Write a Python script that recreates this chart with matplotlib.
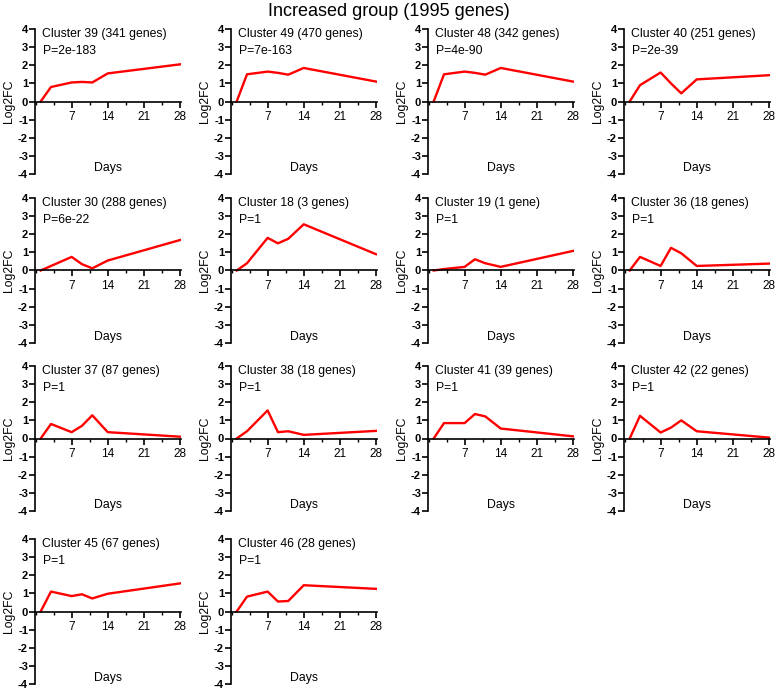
import matplotlib
matplotlib.use("Agg")
import matplotlib.pyplot as plt
from matplotlib.ticker import MultipleLocator

plt.rcParams["font.family"] = ["Liberation Sans", "DejaVu Sans"]
plt.rcParams["axes.unicode_minus"] = False

days = [1, 3, 7, 9, 11, 14, 28]

clusters = ["39", "49", "48", "40", "30", "18", "19", "36",
            "37", "38", "41", "42", "45", "46"]
genes = ["341 genes", "470 genes", "342 genes", "251 genes", "288 genes",
         "3 genes", "1 gene", "18 genes", "87 genes", "18 genes",
         "39 genes", "22 genes", "67 genes", "28 genes"]
pvals = ["2e-183", "7e-163", "4e-90", "2e-39", "6e-22", "1", "1", "1",
         "1", "1", "1", "1", "1", "1"]

c39 = [0, 0.80, 1.05, 1.08, 1.05, 1.55, 2.05]
c49 = [0, 1.50, 1.65, 1.58, 1.48, 1.85, 1.10]
c48 = [0, 1.50, 1.65, 1.58, 1.48, 1.85, 1.10]
c40 = [0, 0.90, 1.60, 1.00, 0.45, 1.22, 1.45]
c30 = [0, 0.25, 0.75, 0.35, 0.12, 0.55, 1.68]
c18 = [0, 0.40, 1.80, 1.50, 1.75, 2.55, 0.90]
c19 = [0, 0.08, 0.20, 0.62, 0.40, 0.20, 1.08]
c36 = [0, 0.75, 0.25, 1.25, 0.95, 0.25, 0.38]
c37 = [0, 0.80, 0.35, 0.70, 1.28, 0.35, 0.10]
c38 = [0, 0.40, 1.55, 0.35, 0.40, 0.20, 0.42]
c41 = [0, 0.85, 0.85, 1.35, 1.22, 0.55, 0.12]
c42 = [0, 1.25, 0.33, 0.60, 1.00, 0.40, 0.05]
c45 = [0, 1.10, 0.85, 0.95, 0.72, 0.98, 1.55]
c46 = [0, 0.82, 1.10, 0.55, 0.58, 1.45, 1.25]
series = [c39, c49, c48, c40, c30, c18, c19, c36,
          c37, c38, c41, c42, c45, c46]

W, H = 777, 689
fig = plt.figure(figsize=(W / 100, H / 100), dpi=100)
fig.text(0.5, 1 - 11 / H, "Increased group (1995 genes)", ha="center",
         va="center", fontsize=13)

col_left = [35, 231, 428, 624]
row_top = [29, 198, 366, 539]
aw, ah = 146, 145

for i, vals in enumerate(series):
    r, c = divmod(i, 4)
    ax = fig.add_axes([col_left[c] / W, 1 - (row_top[r] + ah) / H, aw / W, ah / H])
    ax.plot(days, vals, color="#ff0000", lw=1.7)
    ax.set_xlim(-0.1, 28.2)
    ax.set_ylim(-4, 4)
    ax.spines["top"].set_visible(False)
    ax.spines["right"].set_visible(False)
    ax.spines["bottom"].set_position(("data", 0))
    for s in ["left", "bottom"]:
        ax.spines[s].set_linewidth(1.2)
    ax.xaxis.set_minor_locator(MultipleLocator(3.5))
    ax.set_xticks([7, 14, 21, 28])
    ax.set_yticks(range(-4, 5))
    ax.tick_params(axis="x", which="major", length=4, width=1.2,
                   labelsize=8.5, pad=3)
    ax.tick_params(axis="x", which="minor", length=2.5, width=1.0)
    ax.tick_params(axis="y", length=4, width=1.2, labelsize=8, pad=1)
    for lab in ax.get_yticklabels():
        lab.set_fontweight("bold")
    ax.set_ylabel("Log2FC", fontsize=8.8, labelpad=2)
    ax.text(14, -3.65, "Days", ha="center", va="center", fontsize=8.8)
    ax.text(1.2, 3.75, f"Cluster {clusters[i]} ({genes[i]})", ha="left",
            va="center", fontsize=8.8)
    ax.text(1.5, 2.8, f"P={pvals[i]}", ha="left", va="center", fontsize=8.8)

fig.savefig("out.png", dpi=100)
